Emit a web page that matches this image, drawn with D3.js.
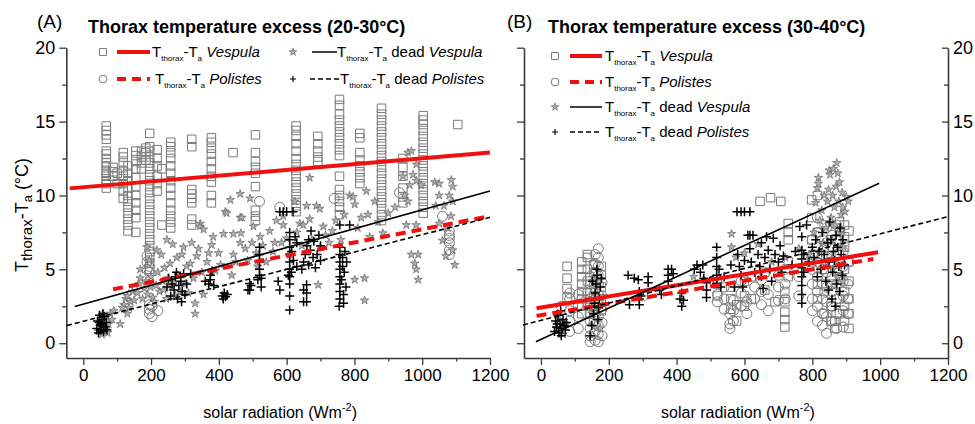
<!DOCTYPE html>
<html><head><meta charset="utf-8">
<script src="https://cdn.jsdelivr.net/npm/d3@7"></script>
<style>body{margin:0;background:#fff}svg{display:block}text{font-family:"Liberation Sans",Arial,sans-serif}</style>
</head><body><svg id="c" width="975" height="424"></svg>
<script>
// ---------- DATA ----------
const xTicks = [0,200,400,600,800,1000,1200];
const xMinor = [100,300,500,700,900,1100];
const yTicks = [0,5,10,15,20];
const yMinor = [2.5,7.5,12.5,17.5];
const titleA = "Thorax temperature excess (20-30°C)";
const titleB = "Thorax temperature excess (30-40°C)";

// Panel A (20-30°C): columns [solar radiation, [Tthorax-Ta ...]]
const squaresA = [[68,[10.5,10.8,11.0,11.3,11.5,11.7,12.0,12.2,12.5,12.8,13.0,13.8,14.1,14.4,14.7]],[88,[11.3,11.6,11.9]],[100,[10.8,11.5]],
 [118,[9.8,10.3,10.8,11.3,11.7,12.2,12.6,12.9]],[132,[7.6,8.0,8.4,8.8,9.2,9.6,10.0,10.5,11.0,11.5,12.0]],[155,[7.5,8.5,9.0,9.5,10.0,10.6,11.2,11.8,12.3,12.7,13.0]],
 [172,[11.8,12.2,12.6,13.0]],[185,[12.4,12.9,13.2]],[196,[5.0,5.4,5.8,6.2,6.6,7.0,7.4,7.8,8.2,8.6,9.0,9.4,9.8,10.2,10.6,11.0,11.4,11.8,12.2,12.6,13.0,13.3,14.2]],
 [218,[10.3,10.8,11.3,12.0,12.5,13.1]],[232,[8.0,11.8]],[258,[7.8,8.2,8.6,9.0,9.5,10.0,10.5,11.0,11.5,12.0,12.5,12.9,13.3,13.6]],
 [320,[8.0,8.4,9.5,9.8,10.1,10.4,13.3,13.8]],[378,[9.5,10.0,10.9,11.3,11.8,12.3,12.8,13.2,13.6,13.9]],[442,[12.9]],
 [508,[8.3,8.6,9.0,10.6,11.5,11.9,12.3,12.9,14.1]],[628,[8.9,9.3,9.7,10.1,10.5,10.9,11.3,11.7,12.1,12.5,13.0,13.5,14.0,14.4,14.7]],
 [692,[12.3,12.6,13.0,13.5,14.0]],[756,[8.7,9.2,9.6,10.0,10.4,11.3,12.7,13.1,13.5,13.9,14.3,14.7,15.1,15.5,16.1,16.5]],
 [816,[10.8,11.2,11.6,12.0,12.4,12.9,13.9,14.2]],[880,[8.3,8.7,9.1,9.5,9.9,10.3,10.7,11.1,11.5,11.9,12.3,12.7,13.1,13.5,13.9,14.3,14.7,15.1,15.5,15.9]],
 [943,[9.5,9.9,10.5,11.3,11.9,12.5]],[1003,[8.8,9.2,9.6,10.0,10.4,10.8,11.2,11.6,12.0,12.4,12.8,13.2,13.6,14.0,14.4,14.8,15.1,15.4]],[1105,[14.8]]];
const circlesA = [[188,[5.0,5.5,5.9]],[195,[2.0,2.3,2.6,4.8,5.2]],[203,[1.8,2.5]],[220,[2.2]],[520,[9.6]],[580,[9.2]],[740,[9.8]],[933,[10.2]],[1060,[8.6]],[1080,[6.0,6.3,6.8,7.1,7.3,7.6]]];
const starsA = [[45,0.8],[50,1.2],[55,0.6],[60,1.5],[65,0.9],[70,1.8],[75,1.3],[80,2.0],[85,1.6],[90,2.2],[58,2.0],[72,0.7],
 [109,1.3],[120,2.6],[125,3.0],[130,3.2],[135,2.4],[140,2.8],[145,3.5],[150,2.9],[130,2.0],[115,2.4],
 [160,3.4],[165,4.0],[168,5.0],[168,4.4],[175,3.0],[180,3.7],[185,4.2],[188,6.5],[190,3.3],[195,5.6],[198,3.8],[200,4.5],[205,3.1],[210,2.8],[215,3.9],[217,6.3],[220,4.8],[225,3.5],[230,6.0],[235,4.2],[237,3.6],[240,5.1],[245,3.0],[247,7.0],[250,4.4],
 [256,5.4],[260,3.8],[264,6.7],[268,4.1],[272,3.2],[276,5.8],[280,4.6],[285,3.5],[291,6.0],[296,6.5],[300,4.0],[305,5.2],[310,3.4],[316,5.4],[320,6.8],[325,4.4],[330,2.7],[330,2.0],[335,5.9],[340,6.4],[345,8.1],[344,7.9],[350,4.8],[355,3.3],[355,7.7],
 [365,5.5],[370,6.1],[379,6.65],[383,7.2],[390,4.9],[399,6.1],[405,5.3],[414,7.4],[419,8.9],[423,8.8],[434,9.7],[438,4.6],[443,6.0],[443,7.4],[450,5.5],[463,6.8],[463,8.5],[463,10.1],[465,7.45],[468,8.5],[478,6.4],[485,5.6],[492,9.8],[498,6.8],
 [502,7.9],[510,6.1],[515,5.2],[522,7.2],[530,6.6],[540,5.5],[550,7.6],[560,6.2],[565,6.8],[570,8.3],[585,6.8],[590,8.0],[590,8.6],[600,7.1],[610,6.0],[624,9.6],[630,7.5],[639,8.1],[645,6.6],[649,8.0],
 [659,9.3],[668,8.4],[668,11.2],[675,7.0],[688,9.3],[693,3.95],[698,9.1],[700,6.5],[708,7.9],[715,7.3],[725,6.8],[735,7.6],[745,8.3],[760,7.0],[770,8.7],[786,10.0],[796,9.9],[801,9.4],[801,4.3],[810,7.8],[820,8.5],[830,4.4],[830,2.9],[835,10.3],[840,8.7],[845,7.2],[860,9.6],
 [870,8.2],[884,7.45],[900,8.8],[920,9.2],[943,11.3],[948,10.0],[953,8.0],[958,12.9],[958,9.6],[963,10.7],[968,13.0],[968,6.0],[973,11.4],[978,5.4],[982,8.0],[982,5.0],[983,11.0],[983,12.1],[988,6.0],[988,4.3],[997,10.7],
 [1037,10.9],[1040,9.3],[1050,10.8],[1050,10.0],[1050,8.1],[1060,6.95],[1064,9.3],[1070,5.9],[1080,10.0],[1086,11.05],[1090,10.6],[1090,9.6],[1090,6.3],[1096,5.3],[1075,7.8],[1085,8.6]];
const crossesA = [[40,1.0],[42,1.5],[45,0.7],[48,1.9],[50,1.2],[52,0.9],[55,1.6],[57,1.3],[60,0.8],[62,1.8],[65,1.1],[68,1.4],[70,0.9],[47,1.4],[58,2.0],
 [247,3.8],[252,4.4],[258,3.2],[262,4.0],[268,3.6],[272,4.5],[278,3.0],[282,3.9],[288,4.2],[292,3.5],[296,4.7],[300,3.3],[305,4.0],[290,2.8],[275,4.8],
 [317,4.7],[360,4.2],[375,4.3],[375,4.6],[380,4.9],[385,3.9],[370,4.0],[410,3.2],[413,3.0],[416,3.4],[420,3.15],[425,3.3],
 [486,3.6],[491,4.05],[491,3.6],[495,3.9],[515,4.3],[520,4.6],[520,5.0],[520,5.5],[520,6.0],[520,6.5],[525,3.8],[525,4.4],
 [575,4.2],[580,3.6],[580,8.9],[590,8.9],[600,8.9],[605,4.6],[609,2.25],[609,3.2],[609,4.0],[609,4.5],[609,5.0],[609,5.5],[609,6.0],[609,6.5],[609,7.0],[609,7.5],[614,4.8],[615,6.2],[619,8.9],[620,5.6],[625,7.2],[630,6.8],[630,5.2],
 [645,5.0],[650,5.5],[650,3.6],[650,2.8],[655,6.0],[659,2.8],[659,3.4],[659,3.95],[660,6.6],[665,7.0],[665,5.3],[670,6.3],[672,7.6],[678,5.8],[680,6.9],[685,5.1],[690,6.0],[695,7.3],[700,5.6],[700,6.6],
 [755,2.5],[757,3.0],[757,3.5],[757,4.0],[757,4.5],[757,5.0],[757,5.5],[757,6.0],[757,6.5],[757,8.0],[762,4.3],[765,5.2],[765,5.8],[768,2.7],[768,3.3],[770,4.8],[772,6.2],[775,3.8],[777,5.5],[786,8.0]];
// regression lines, panel A (data units)
const fitVespulaA = [[-40,10.48],[1200,12.9]];
const fitPolistesA = [[88,3.65],[1200,8.6]];
const fitDeadVespulaA = [[-25,2.48],[1200,10.3]];
const fitDeadPolistesA = [[-48,1.2],[1200,8.52]];

// Panel B (30-40°C)
const squaresB = [[77,[3.1,3.7,4.4,5.2]],[120,[2.0,2.5,3.0,3.5,4.0,4.5,5.0,5.5]],[137,[2.6,3.4,4.2,5.0,5.8,6.0]],[155,[1.5,2.5,3.2,4.0,4.8,5.3]],[178,[2.2,3.0,3.8,4.6,5.2]],
 [520,[3.2,4.0]],[560,[2.3,3.0,3.8]],[577,[1.5,2.6]],[600,[2.5,3.2,4.2]],[620,[3.0,4.5]],[646,[9.6]],[660,[3.6,4.8]],[677,[9.85]],[690,[2.8]],[707,[9.6]],
 [719,[1.1,1.6,2.1,2.8,3.5]],[729,[4.5,5.5,7.0,7.5,8.1]],[798,[5.5,7.0,8.5,9.7]],[815,[3.0,4.0,6.0,7.5,10.0]],[835,[2.0,3.5,5.0,6.5,8.0]],[855,[1.5,2.5,4.0,5.5,7.0]],
 [866,[1.0,1.5]],[880,[2.0,3.0,4.5,6.0,7.5,8.2]],[895,[1.5,2.5,3.5,5.0,6.5,7.2,8.0]],[908,[1.0,2.0,3.0,4.2,5.5,7.6]]];
const circlesB = [[60,[1.2,1.8,2.5]],[85,[0.8,1.5,2.2,3.0,3.4]],[110,[1.0,1.8,2.6,3.3]],[145,[0.1,0.5,1.0,1.5,2.0,2.5,3.0,3.5,4.0,4.5]],
 [160,[0.2,0.8,1.3,1.9,2.4,3.0,3.6,4.2,4.8,5.4,6.0]],[169,[0.1,0.6,1.2,1.8,2.6,3.3,4.0,4.6,5.2,5.8,6.4]],[180,[0.5,1.4,2.3,3.2,4.1]],[300,[3.2]],
 [520,[2.8,3.3]],[540,[2.3,3.0,3.8]],[557,[1.0,1.3,2.0]],[567,[1.5,2.2,2.9]],[590,[2.5,3.4,4.2]],[607,[2.0,2.8]],[630,[3.0,3.8]],[650,[2.6,3.5,4.3]],
 [670,[2.2,3.3]],[700,[2.9,3.8,4.6]],[720,[3.0,4.0,5.0]],[760,[3.2,4.5]],[800,[2.2,3.0,4.0,5.0,6.0,7.0]],[815,[1.5,2.5,3.5,4.5,5.5,6.5,7.5,8.5]],
 [830,[1.2,2.0,3.0,4.0,5.0,6.0,7.0]],[842,[0.67,1.8,2.8,3.8,4.8,5.8,6.8,7.8]],[858,[1.5,2.5,3.5,4.5,5.5,6.5,7.3]],[872,[1.0,2.0,3.0,4.0,5.0,6.0,7.0,8.0]],
 [891,[1.1,2.2,3.2,4.2,5.2,6.2]],[905,[2.0,3.0,4.0,5.5]]];
const starsB = [[45,1.0],[55,1.6],[65,0.6],[75,1.3],[150,2.0],[165,3.2],[175,1.0],[290,3.4],[450,4.5],[520,4.0],[562,7.4],[562,6.5],[575,5.8],[600,6.1],[640,6.7],
 [680,5.5],[720,5.8],[760,6.4],[790,6.0],[805,7.5],[810,9.5],[815,10.5],[818,11.2],[818,10.8],[822,8.3],[828,9.0],[832,6.8],[835,10.0],[840,7.8],[845,9.6],
 [848,10.4],[850,11.7],[852,11.4],[855,8.5],[858,7.0],[860,10.0],[862,11.8],[865,9.2],[868,8.0],[870,10.6],[872,12.2],[875,11.5],[878,9.6],[880,10.9],
 [882,7.5],[885,8.7],[888,10.2],[890,9.2],[892,6.5],[896,8.9],[900,9.9],[906,9.6],[845,5.5],[860,5.0],[875,4.5],[890,4.2]];
const crossesB = [[40,0.8],[43,1.5],[46,1.1],[50,1.9],[53,0.7],[56,1.3],[58,2.2],[62,1.0],[65,1.6],[68,1.2],[72,0.9],[75,1.4],[48,1.3],[60,0.5],
 [145,0.5],[150,1.2],[155,2.0],[158,2.7],[160,3.4],[162,4.0],[165,4.6],[165,5.0],[168,1.6],[170,2.4],[172,3.0],[175,3.8],[152,4.2],[178,4.4],
 [257,4.6],[261,2.6],[275,4.4],[287,4.3],[290,2.6],[290,3.0],[290,3.5],[295,3.2],[316,4.5],[316,4.1],[350,3.6],[355,3.3],[375,4.2],[375,4.6],[375,5.0],[385,5.0],[390,4.7],
 [410,3.0],[415,2.5],[415,3.4],[420,2.9],[452,5.0],[460,5.3],[470,4.8],[477,5.3],[480,4.4],[488,3.1],[488,3.6],[488,4.1],[518,4.05],[518,4.6],[518,5.2],[518,5.8],[518,6.5],
 [525,5.0],[530,3.8],[540,4.5],[560,5.3],[570,3.8],[578,8.9],[590,8.9],[600,8.9],[616,8.9],[580,6.0],[585,5.2],[590,4.6],[595,3.8],[600,5.6],[610,7.3],[616,7.3],[625,7.3],
 [616,6.4],[620,5.5],[630,4.8],[640,6.0],[645,5.2],[650,4.5],[650,6.8],[655,3.7],[660,5.8],[665,7.2],[670,6.3],[675,5.0],[680,4.2],[685,7.1],[690,6.0],[700,5.5],[705,6.6],
 [710,4.8],[715,5.9],[740,5.3],[750,6.2],[763,7.9],[769,2.7],[769,3.3],[769,3.9],[769,4.5],[769,5.1],[769,5.7],[769,6.3],[769,7.2],[775,4.8],[775,6.0],[783,8.0],
 [790,5.5],[800,6.5],[805,5.8],[810,7.0],[815,4.5],[820,6.2],[825,5.0],[830,7.5],[835,6.0],[840,4.2],[845,6.8],[850,5.5],[855,7.0],[860,4.8],[862,6.2],[865,5.6],
 [870,7.3],[872,4.0],[875,6.5],[878,5.2],[880,3.5],[885,6.0],[888,4.6],[890,7.0],[895,5.3],[858,3.0],[868,2.5],[848,3.6],[882,7.8],[852,8.2]];
const fitVespulaB = [[-13,2.37],[994,6.16]];
const fitPolistesB = [[-13,1.85],[980,5.7]];
const fitDeadVespulaB = [[-15,0.1],[997,10.83]];
const fitDeadPolistesB = [[-53,1.24],[1200,8.57]];

// ---------- DRAWING ----------
const svg = d3.select("#c");
const cols = c => c.flatMap(([x, ys]) => ys.map(y => [x, y]));
const y = d3.scaleLinear().domain([-1, 20]).range([358, 47.7]);
const xA = d3.scaleLinear().domain([-50, 1200]).range([66.3, 490]);
const xB = d3.scaleLinear().domain([-50, 1200]).range([524, 948]);

const STY = {
  square: {type: d3.symbolSquare, size: 72, fill: "none", stroke: "#7a7a7a", sw: 1},
  circle: {type: d3.symbolCircle, size: 78, fill: "none", stroke: "#7a7a7a", sw: 1},
  star:   {type: d3.symbolStar, size: 22, fill: "#b0b0b0", stroke: "#666", sw: 0.7},
  cross:  {type: d3.symbolCross, size: 0, fill: "none", stroke: "#000", sw: 1.4}
};
function plus(g, x, yv, pts) {
  g.selectAll(null).data(pts).join("path")
    .attr("d", d => `M${x(d[0]) - 4.5},${y(d[1])}h9M${x(d[0])},${y(d[1]) - 4.5}v9`)
    .attr("stroke", "#000").attr("stroke-width", 1.5).attr("fill", "none");
}
function marks(g, x, pts, s) {
  const sym = d3.symbol().type(s.type).size(s.size);
  g.selectAll(null).data(pts).join("path")
    .attr("d", sym).attr("transform", d => `translate(${x(d[0])},${y(d[1])})`)
    .attr("fill", s.fill).attr("stroke", s.stroke).attr("stroke-width", s.sw);
}
const LINES = {
  vesp: {stroke: "#f01010", sw: 4, dash: null},
  pol:  {stroke: "#f01010", sw: 4, dash: "10,6"},
  dv:   {stroke: "#000", sw: 1.6, dash: null},
  dp:   {stroke: "#000", sw: 1.6, dash: "5,3"}
};
function fit(g, x, pts, s) {
  g.append("path").attr("d", d3.line().x(d => x(d[0])).y(d => y(d[1]))(pts))
    .attr("fill", "none").attr("stroke", s.stroke).attr("stroke-width", s.sw)
    .attr("stroke-dasharray", s.dash);
}
function styleAxis(g) {
  g.select(".domain").attr("stroke", "#3a3a3a").attr("stroke-width", 1.6);
  g.selectAll(".tick line").attr("stroke", "#3a3a3a").attr("stroke-width", 1.3);
  g.selectAll("text").attr("fill", "#000").attr("font-family", "Liberation Sans, Arial, sans-serif");
}
function panel(x, data, side) {
  const g = svg.append("g");
  const xb = g.append("g").attr("transform", `translate(0,${y(-1)})`)
    .call(d3.axisBottom(x).tickValues(xTicks).tickSize(7).tickSizeOuter(0).tickPadding(4).tickFormat(d3.format("d")));
  xb.selectAll("text").attr("font-size", 17);
  styleAxis(xb);
  const xm = g.append("g").attr("transform", `translate(0,${y(-1)})`)
    .call(d3.axisBottom(x).tickValues(xMinor).tickSize(3.5).tickFormat(""));
  xm.select(".domain").remove(); styleAxis(xm);
  const x0 = x.range()[0], x1 = x.range()[1];
  const yl = g.append("g").attr("transform", `translate(${x0},0)`)
    .call(d3.axisLeft(y).tickValues(yTicks).tickSize(7).tickSizeOuter(0).tickPadding(4)
      .tickFormat(side === "left" ? d3.format("d") : ""));
  yl.selectAll("text").attr("font-size", 18);
  styleAxis(yl);
  const ylm = g.append("g").attr("transform", `translate(${x0},0)`)
    .call(d3.axisLeft(y).tickValues(yMinor).tickSize(4).tickFormat(""));
  ylm.select(".domain").remove(); styleAxis(ylm);
  if (side === "right") {
    const yr = g.append("g").attr("transform", `translate(${x1},0)`)
      .call(d3.axisRight(y).tickValues(yTicks).tickSize(-6).tickSizeOuter(0).tickPadding(5).tickFormat(d3.format("d")));
    yr.selectAll("text").attr("font-size", 18);
    styleAxis(yr);
    const yrm = g.append("g").attr("transform", `translate(${x1},0)`)
      .call(d3.axisRight(y).tickValues(yMinor).tickSize(-4).tickFormat(""));
    yrm.select(".domain").remove(); styleAxis(yrm);
  }
  const xt = g.append("text").attr("x", (x0 + x1) / 2 + 2).attr("y", 418).attr("text-anchor", "middle")
    .attr("font-size", 16).attr("fill", "#000");
  xt.append("tspan").text("solar radiation (Wm");
  xt.append("tspan").text("-2").attr("font-size", 11).attr("dy", -7);
  xt.append("tspan").text(")").attr("dy", 7);
  const pg = g.append("g");
  marks(pg, x, cols(data.sq), STY.square);
  marks(pg, x, cols(data.ci), STY.circle);
  marks(pg, x, data.st, STY.star);
  plus(pg, x, y, data.cr);
  fit(g, x, data.fv, LINES.vesp);
  fit(g, x, data.fp, LINES.pol);
  fit(g, x, data.fdv, LINES.dv);
  fit(g, x, data.fdp, LINES.dp);
  return g;
}

panel(xA, {sq: squaresA, ci: circlesA, st: starsA, cr: crossesA, fv: fitVespulaA, fp: fitPolistesA, fdv: fitDeadVespulaA, fdp: fitDeadPolistesA}, "left");
panel(xB, {sq: squaresB, ci: circlesB, st: starsB, cr: crossesB, fv: fitVespulaB, fp: fitPolistesB, fdv: fitDeadVespulaB, fdp: fitDeadPolistesB}, "right");

function title(lx, tx, lab, t) {
  svg.append("text").attr("x", lx).attr("y", 28).attr("font-size", 19).text(lab);
  svg.append("text").attr("x", tx).attr("y", 33).attr("font-size", 18).attr("font-weight", "bold").text(t);
}
title(37, 88, "(A)", titleA);
title(507, 548, "(B)", titleB);

const yt = svg.append("text").attr("transform", "translate(28,215) rotate(-90)").attr("text-anchor", "middle").attr("font-size", 18);
yt.append("tspan").text("T");
yt.append("tspan").text("thorax").attr("font-size", 15).attr("dy", 4);
yt.append("tspan").text("-T").attr("dy", -4);
yt.append("tspan").text("a").attr("font-size", 13).attr("dy", 4);
yt.append("tspan").text(" (°C)").attr("dy", -4);

function legItem(sx, lx0, lx1, tx, ty, sym, line, dead, sp) {
  const g = svg.append("g");
  if (sym === "cross") {
    g.append("path").attr("d", `M${sx - 3},${ty}h6M${sx},${ty - 3}v6`).attr("stroke", "#000").attr("stroke-width", 1.2);
  } else {
    const s = STY[sym];
    g.append("path").attr("d", d3.symbol().type(s.type).size(sym === "star" ? 18 : 48)())
      .attr("transform", `translate(${sx},${ty})`).attr("fill", s.fill).attr("stroke", s.stroke).attr("stroke-width", s.sw);
  }
  const L = LINES[line];
  g.append("line").attr("x1", lx0).attr("x2", lx1).attr("y1", ty).attr("y2", ty)
    .attr("stroke", L.stroke).attr("stroke-width", L.sw === 4 ? 4 : 1.5).attr("stroke-dasharray", L.dash === "10,6" ? "9,6" : L.dash);
  const t = g.append("text").attr("x", tx).attr("y", ty + 5).attr("font-size", 15);
  t.append("tspan").text("T");
  t.append("tspan").text("thorax").attr("font-size", 8).attr("dy", 4);
  t.append("tspan").text("-T").attr("dy", -4);
  t.append("tspan").text("a").attr("font-size", 8).attr("dy", 4);
  t.append("tspan").text(dead ? " dead " : " ").attr("dy", -4);
  t.append("tspan").text(sp).attr("font-style", "italic");
}
legItem(103, 117, 150, 152, 52, "square", "vesp", false, "Vespula");
legItem(103, 117, 150, 155, 79, "circle", "pol", false, "Polistes");
legItem(293, 312, 337, 337, 52, "star", "dv", true, "Vespula");
legItem(293, 310, 340, 340, 79, "cross", "dp", true, "Polistes");
legItem(555, 570, 602, 605, 56, "square", "vesp", false, "Vespula");
legItem(555, 570, 602, 605, 82, "circle", "pol", false, "Polistes");
legItem(555, 570, 602, 605, 107, "star", "dv", true, "Vespula");
legItem(555, 570, 602, 605, 132, "cross", "dp", true, "Polistes");
</script></body></html>
